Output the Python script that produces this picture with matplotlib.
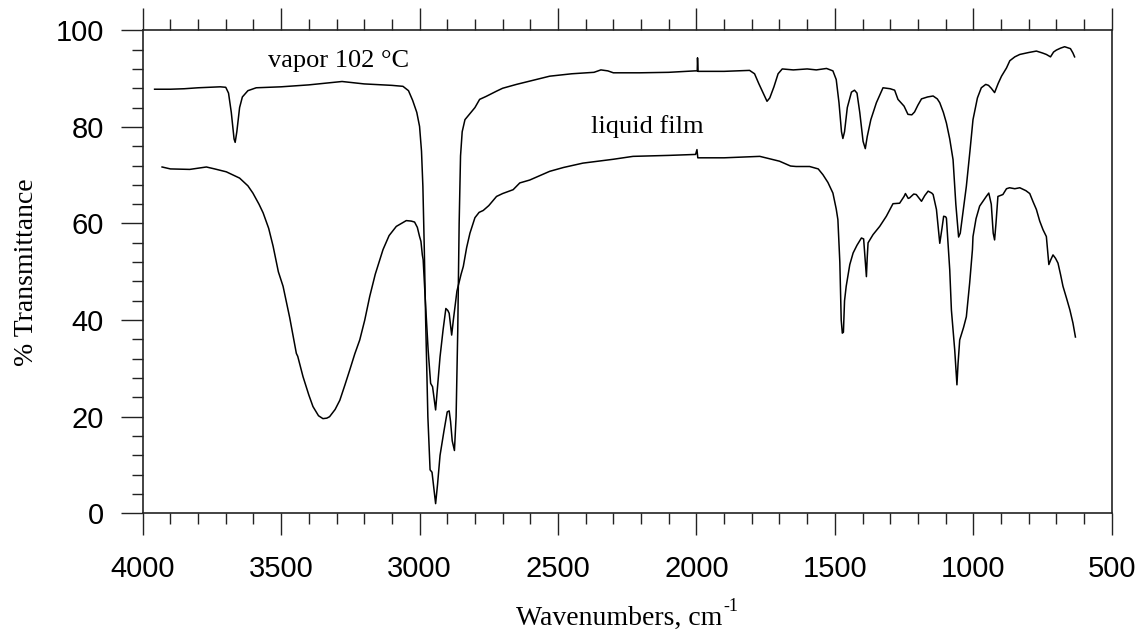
import numpy as np
import matplotlib
matplotlib.use('Agg')
import matplotlib.pyplot as plt
from matplotlib.ticker import MultipleLocator

# vapor 102 C trace (wavenumber, %T)
vapor_wn = [3957, 3900, 3850, 3800, 3720, 3700, 3690, 3680, 3670, 3666, 3660, 3650, 3640, 3620,
            3590, 3500, 3400, 3300, 3280, 3200, 3100, 3060, 3040, 3025, 3010, 3000, 2993, 2988,
            2983, 2978, 2970, 2962, 2955, 2948, 2942, 2935, 2926, 2912, 2900, 2893, 2888, 2882,
            2874, 2868, 2862, 2857, 2852, 2846, 2836, 2800, 2783, 2760, 2722, 2700, 2650, 2600,
            2530, 2450, 2370, 2345, 2320, 2300, 2205, 2100, 2005, 1997, 1996, 1994, 1900, 1808,
            1790, 1775, 1755, 1745, 1735, 1720, 1705, 1690, 1650, 1600, 1567, 1530, 1507, 1495,
            1485, 1476, 1471, 1465, 1455, 1440, 1429, 1420, 1410, 1398, 1390, 1383, 1370, 1350,
            1326, 1300, 1284, 1272, 1250, 1236, 1222, 1212, 1200, 1187, 1165, 1145, 1130, 1121,
            1108, 1097, 1085, 1073, 1063, 1053, 1047, 1038, 1025, 1012, 1001, 985, 971, 955,
            945, 935, 923, 910, 898, 880, 868, 850, 832, 800, 772, 750, 736, 721, 710, 700,
            685, 670, 660, 649, 640, 634]
vapor_t = [87.8, 87.8, 87.9, 88.1, 88.3, 88.2, 87.0, 83.0, 77.5, 76.8, 79.0, 84.0, 86.2, 87.5,
           88.1, 88.3, 88.7, 89.3, 89.4, 88.9, 88.6, 88.4, 87.5, 85.5, 83.0, 80.1, 75.0, 67.7,
           55.0, 40.0, 20.0, 9.0, 8.5, 5.0, 2.0, 6.0, 12.0, 17.0, 21.0, 21.2, 19.0, 15.0,
           13.0, 20.0, 38.0, 60.0, 74.0, 79.0, 81.5, 84.0, 85.7, 86.3, 87.4, 88.0, 88.8, 89.5,
           90.5, 91.0, 91.3, 91.8, 91.6, 91.2, 91.2, 91.3, 91.6, 91.6, 94.3, 91.5, 91.5, 91.7,
           91.0, 89.0, 86.5, 85.3, 86.0, 88.3, 91.0, 92.0, 91.8, 92.0, 91.8, 92.1, 91.6, 89.8,
           85.0, 79.0, 77.6, 79.0, 84.0, 87.2, 87.6, 87.0, 83.0, 77.0, 75.5, 78.0, 81.5, 85.0,
           88.1, 87.9, 87.6, 85.7, 84.3, 82.6, 82.5, 83.1, 84.5, 85.8, 86.2, 86.4, 85.8, 85.0,
           83.0, 80.8, 77.5, 73.2, 64.0, 57.2, 58.0, 62.0, 67.7, 75.0, 81.5, 86.0, 88.1, 88.8,
           88.6, 88.0, 87.1, 89.0, 90.5, 92.2, 93.7, 94.5, 95.0, 95.4, 95.7, 95.3, 95.0, 94.5, 95.5, 95.9,
           96.3, 96.6, 96.4, 96.2, 95.3, 94.5]

# liquid film trace
liquid_wn = [3930, 3900, 3830, 3770, 3740, 3698, 3650, 3620, 3602, 3580, 3565, 3545, 3529, 3510,
             3493, 3469, 3445, 3440, 3421, 3400, 3385, 3365, 3349, 3335, 3325, 3305, 3288, 3270,
             3252, 3234, 3216, 3198, 3180, 3160, 3132, 3110, 3084, 3060, 3048, 3030, 3018, 3008,
             3000, 2995, 2990, 2987, 2980, 2969, 2960, 2953, 2942, 2934, 2926, 2915, 2905, 2898,
             2893, 2884, 2878, 2865, 2850, 2842, 2830, 2818, 2800, 2785, 2770, 2750, 2722, 2700,
             2662, 2638, 2602, 2530, 2480, 2410, 2300, 2229, 2100, 2003, 1998, 1995, 1900, 1771,
             1700, 1660, 1640, 1591, 1560, 1543, 1525, 1507, 1495, 1489, 1482, 1477, 1473, 1469,
             1465, 1459, 1446, 1434, 1420, 1404, 1396, 1390, 1386, 1383, 1380, 1362, 1338, 1314,
             1290, 1266, 1250, 1245, 1235, 1230, 1215, 1206, 1195, 1187, 1175, 1163, 1150, 1145,
             1133, 1121, 1113, 1107, 1100, 1097, 1090, 1085, 1079, 1073, 1067, 1059, 1055, 1049,
             1035, 1025, 1013, 1003, 1001, 990, 977, 953, 944, 935, 928, 923, 918, 911,
             893, 880, 869, 850, 832, 810, 796, 784, 772, 760, 748, 736, 727, 720,
             712, 703, 694, 685, 676, 663, 651, 640, 631]
liquid_t = [71.7, 71.3, 71.2, 71.7, 71.3, 70.7, 69.4, 67.8, 66.3, 64.0, 62.2, 59.0, 55.3, 50.0,
            47.0, 40.5, 33.1, 32.5, 28.3, 24.5, 22.1, 20.2, 19.6, 19.7, 20.0, 21.5, 23.4, 26.5,
            29.7, 33.0, 35.9, 40.0, 44.9, 49.5, 54.6, 57.5, 59.4, 60.2, 60.6, 60.5, 60.3, 59.2,
            57.3, 56.3, 53.5, 52.5, 45.0, 33.8, 26.9, 26.2, 21.4, 27.0, 32.4, 38.0, 42.4, 42.0,
            41.4, 36.9, 40.0, 46.0, 49.5, 51.1, 55.0, 58.0, 61.2, 62.3, 62.7, 63.7, 65.6, 66.2,
            67.0, 68.4, 69.0, 70.8, 71.6, 72.5, 73.3, 73.9, 74.1, 74.3, 75.3, 73.6, 73.6, 73.9,
            72.9, 71.9, 71.8, 71.8, 71.3, 70.1, 68.5, 66.3, 63.0, 60.8, 52.0, 40.0, 37.3, 37.5,
            44.0, 47.0, 51.5, 53.9, 55.5, 57.0, 56.8, 52.0, 49.0, 53.0, 56.0, 57.7, 59.4, 61.5,
            64.1, 64.2, 65.6, 66.2, 65.2, 65.3, 66.1, 66.0, 65.2, 64.6, 65.8, 66.7, 66.3, 66.0,
            62.9, 55.9, 59.0, 61.5, 61.4, 61.1, 55.0, 50.4, 42.1, 38.0, 33.8, 26.6, 31.0, 35.9,
            38.5, 40.7, 47.7, 54.6, 57.3, 61.0, 63.6, 65.6, 66.3, 64.0, 58.0, 56.6, 60.0, 65.6,
            66.0, 67.2, 67.4, 67.2, 67.4, 66.8, 66.2, 64.5, 62.9, 60.5, 58.7, 57.3, 51.5, 52.5,
            53.5, 52.8, 51.8, 49.5, 47.0, 44.5, 42.1, 39.4, 36.5]

serif = 'Liberation Serif'
sans = 'Liberation Sans'

fig = plt.figure(figsize=(11.44, 6.34), dpi=100)
ax = fig.add_axes([142.7 / 1144, (634 - 513.3) / 634, 969 / 1144, 483 / 634])

ax.plot(vapor_wn, vapor_t, color='black', lw=1.1)
ax.plot(liquid_wn, liquid_t, color='black', lw=1.1)

ax.set_xlim(4000, 500)
ax.set_ylim(0, 100)
ax.xaxis.set_major_locator(MultipleLocator(500))
ax.xaxis.set_minor_locator(MultipleLocator(100))
ax.yaxis.set_major_locator(MultipleLocator(20))
ax.yaxis.set_minor_locator(MultipleLocator(4))

ax.tick_params(axis='x', which='both', direction='out', top=True, bottom=True,
               labeltop=False, width=1.0, color='#222222')
ax.tick_params(axis='y', which='both', direction='out', left=True, right=False,
               width=1.0, color='#222222')
ax.tick_params(which='major', length=16)
ax.tick_params(which='minor', length=8)
ax.tick_params(axis='x', which='major', pad=14)
ax.tick_params(axis='y', which='major', pad=12)
for lab in ax.get_xticklabels() + ax.get_yticklabels():
    lab.set_fontfamily(sans)
    lab.set_fontsize(21)

for sp in ax.spines.values():
    sp.set_linewidth(1.2)
    sp.set_color('#222222')

# y label: anchor is its right edge (rotated text bottom)
ax.set_ylabel('% Transmittance', fontfamily=serif, fontsize=20)
ax.yaxis.set_label_coords(-(142.7 - 39) / 969, 0.5)

# x label with a plain hyphen superscript, as in the original
xl = fig.text(628 / 1144 - 0.008, (634 - 625) / 634, 'Wavenumbers, cm',
              fontfamily=serif, fontsize=20, ha='center', va='baseline')
fig.canvas.draw()
bb = xl.get_window_extent()
fig.text(bb.x1 / 1144 + 0.001, (634 - 611) / 634, '-1',
         fontfamily=serif, fontsize=13, ha='left', va='baseline')

ax.text(3546, 92.5, 'vapor 102 \u00b0C', fontfamily=serif, fontsize=19, va='baseline')
ax.text(2382, 78.7, 'liquid film', fontfamily=serif, fontsize=19, va='baseline')

plt.savefig('out.png', dpi=100)
